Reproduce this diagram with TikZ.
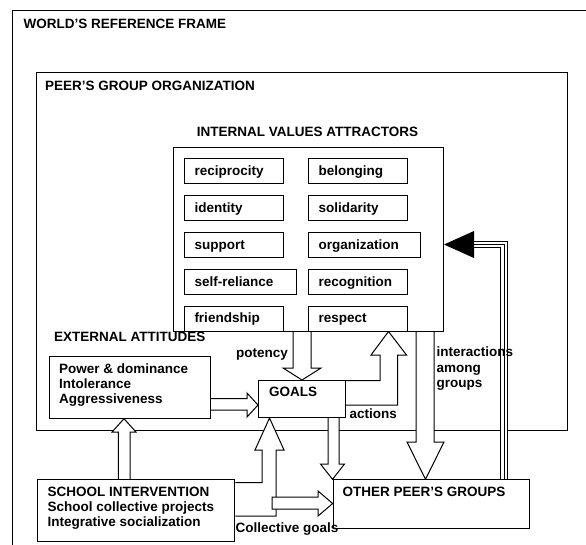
\documentclass[tikz,border=0pt]{standalone}
\usepackage{fontspec}
\setmainfont{Liberation Sans}
\usetikzlibrary{calc}
\pgfdeclarelayer{back}
\pgfdeclarelayer{mid}
\pgfsetlayers{back,mid,main}
\tikzset{
  lbl/.style={font=\bfseries\fontsize{13.5}{15.2}\selectfont, inner sep=0pt, anchor=base west},
  mlbl/.style={lbl, align=left},
  frame/.style={draw, line width=1pt},
  box/.style={draw, line width=1pt, fill=white, inner sep=0pt, anchor=north west},
  valuebox/.style={box, font=\bfseries\fontsize{13.5}{15.2}\selectfont, minimum height=25pt,
    text height=10pt, text depth=1.6pt, inner xsep=10pt, align=left},
  barrow/.style={draw, line width=1pt, fill=white, line join=miter},
  feedback/.style={draw, line width=1pt, double, double distance=5.2pt, line join=miter},
}
\begin{document}
\begin{tikzpicture}[x=1pt,y=-1pt]
\useasboundingbox (0,0) rectangle (586,544);
\begin{scope}
  \clip (0,0) rectangle (586,544);
  \draw[frame] (12.5,10.5) rectangle (620,580);
\end{scope}
\begin{pgfonlayer}{back}
  \node[frame, inner sep=0pt, anchor=north west, minimum width=531pt, minimum height=358pt] (peer) at (36,72) {};
\end{pgfonlayer}

% boxes
\node[box, minimum width=270pt, minimum height=183.5pt] (ival) at (173,147) {};
\node[valuebox, text width=79pt] (v1) at (184,158) {reciprocity};
\node[valuebox, text width=79pt] (v2) at (308,158) {belonging};
\node[valuebox, text width=79pt] (v3) at (184,195) {identity};
\node[valuebox, text width=79pt] (v4) at (308,195) {solidarity};
\node[valuebox, text width=79pt] (v5) at (184,232) {support};
\node[valuebox, text width=91.5pt] (v6) at (308,232) {organization};
\node[valuebox, text width=92pt] (v7) at (184,269) {self-reliance};
\node[valuebox, text width=79pt] (v8) at (308,269) {recognition};
\node[valuebox, text width=79pt] (v9) at (184,305.5) {friendship};
\node[valuebox, text width=79pt] (v10) at (308,305.5) {respect};
\node[box, minimum width=160.7pt, minimum height=61.7pt] (ext) at (49.3,356) {};
\node[box, minimum width=87pt, minimum height=37pt] (goals) at (258,380) {};
\node[box, minimum width=196.6pt, minimum height=49pt] (other) at (332.7,479.3) {};
\node[box, minimum width=197pt, minimum height=61.4pt] (school) at (37.3,479.3) {};

% labels (multi-line labels are placed by their last baseline)
\node[lbl] (tworld) at (23.5,28.3) {WORLD’S REFERENCE FRAME};
\node[lbl] (tpeer) at (45,90) {PEER’S GROUP ORGANIZATION};
\node[lbl, anchor=base] (tival) at (307.5,136) {INTERNAL VALUES ATTRACTORS};
\node[lbl] (texta) at (54,341.7) {EXTERNAL ATTITUDES};
\node[mlbl] (textc) at (59,403.8) {Power \& dominance\\Intolerance\\Aggressiveness};
\node[lbl] (tgoals) at (269,396) {GOALS};
\node[lbl] (tother) at (342.5,496.7) {OTHER PEER’S GROUPS};
\node[mlbl] (tschool) at (47.5,526.9) {SCHOOL INTERVENTION\\School collective projects\\Integrative socialization};
\node[lbl] (tpot) at (236,357) {potency};
\node[lbl] (tact) at (349.5,418) {actions};
\node[mlbl] (tinter) at (436.5,387.2) {interactions\\among\\groups};
\node[lbl] (tcoll) at (235.5,532) {Collective goals};

\begin{pgfonlayer}{mid}
  % potency: values -> goals
  \filldraw[barrow] (293,0 |- ival.south) -- (293,368) -- (283,368) -- (302,0 |- goals.north)
    -- (321,368) -- (311,368) -- (311,0 |- ival.south);
  % actions: goals -> values
  \filldraw[barrow] (goals.east |- 0,380.5) -- (380,380.5) -- (380,355) -- (371,355)
    -- (388.5,0 |- ival.south) -- (406.5,355) -- (397.5,355) -- (397.5,405) -- (goals.east |- 0,405);
  % interactions among groups: values -> other
  \filldraw[barrow] (416,0 |- ival.south) -- (416,442) -- (407,442) -- (425.5,0 |- other.north)
    -- (444,442) -- (434,442) -- (434,0 |- ival.south);
  % goals -> other
  \filldraw[barrow] (328,0 |- goals.south) -- (328,464) -- (320.5,464) -- (332.5,0 |- other.north)
    -- (344.5,464) -- (339,464) -- (339,0 |- goals.south);
  % external -> goals
  \filldraw[barrow] (ext.east |- 0,398.5) -- (247,398.5) -- (247,393) -- (goals.west |- 0,405)
    -- (247,417) -- (247,410) -- (ext.east |- 0,410);
  % school -> external
  \filldraw[barrow] (118.3,0 |- school.north) -- (118.3,432) -- (112,432) -- (124,0 |- ext.south)
    -- (136,432) -- (130,432) -- (130,0 |- school.north);
  % school -> goals (elbow)
  \filldraw[barrow] (school.east |- 0,482.5) -- (262,482.5) -- (262,450) -- (255,450)
    -- (269.5,0 |- goals.south) -- (284,450) -- (276,450) -- (276,516) -- (school.east |- 0,516);
  % collective goals -> other
  \filldraw[barrow] (272,497) -- (318,497) -- (318,491) -- (other.west |- 0,503.5)
    -- (318,516) -- (318,509) -- (272,509) -- cycle;
  % feedback: other -> values
  \draw[feedback] (504,0 |- other.north) -- (504,244.5) -- (474,244.5);
  \draw[line width=0.9pt] (504,0 |- other.north) -- (504,244.5) -- (474,244.5);
  \fill (474,231) -- (ival.east |- 0,244.5) -- (474,258) -- cycle;
\end{pgfonlayer}
\end{tikzpicture}
\end{document}
